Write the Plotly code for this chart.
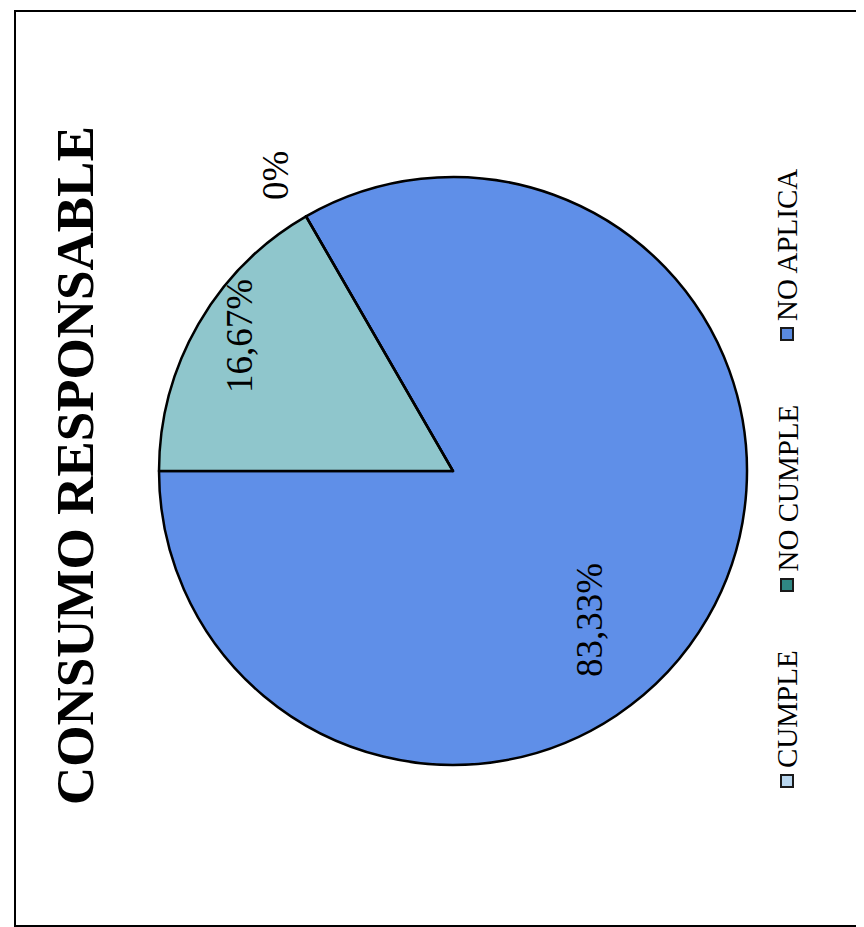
import plotly.graph_objects as go

# ---- data ----
categories = ["CUMPLE", "NO CUMPLE", "NO APLICA"]
values = [83.33, 16.67, 0]
title_text = "CONSUMO RESPONSABLE"

slice_colors = ["#5f8fe8", "#8fc6cc", "#4f7fd8"]
legend_colors = ["#b9d6ee", "#2f8783", "#5a8ae0"]

W, H = 864, 927
cx, cy, r = 445, 463, 294


def px(x):
    return x / W


def py(y):
    return 1 - y / H


def fmt(v):
    if v == 0:
        return "0%"
    return f"{v:.2f}".replace(".", ",") + "%"


fig = go.Figure()
fig.add_trace(go.Pie(
    labels=categories,
    values=values,
    sort=False,
    direction="clockwise",
    rotation=-30,
    marker=dict(colors=slice_colors, line=dict(color="black", width=2.5)),
    textinfo="none",
    hoverinfo="label+percent",
    showlegend=False,
    domain=dict(x=[px(cx - r), px(cx + r)], y=[py(cy + r), py(cy - r)]),
))

serif = "Liberation Serif, Times New Roman, serif"
annotations = []

# title
annotations.append(dict(
    x=px(67), y=py(458), xref="paper", yref="paper",
    text=f"<b>{title_text}</b>", showarrow=False, textangle=-90,
    font=dict(family=serif, size=53, color="black"),
    xanchor="center", yanchor="middle",
))

# slice labels
label_pos = [(581, 612), (232, 328), (267, 168)]
for v, (lx, ly) in zip(values, label_pos):
    annotations.append(dict(
        x=px(lx), y=py(ly), xref="paper", yref="paper",
        text=fmt(v), showarrow=False, textangle=-90,
        font=dict(family=serif, size=37, color="black"),
        xanchor="center", yanchor="middle",
    ))

# legend (rotated)
shapes = []
leg_x = 779
marker_y = [773, 577, 326]
for cat, col, my in zip(categories, legend_colors, marker_y):
    shapes.append(dict(
        type="rect", xref="paper", yref="paper",
        x0=px(leg_x - 6), x1=px(leg_x + 6), y0=py(my + 6), y1=py(my - 6),
        line=dict(color="#1a1a1a", width=2), fillcolor=col,
    ))
    annotations.append(dict(
        x=px(leg_x), y=py(my - 11), xref="paper", yref="paper",
        text=cat, showarrow=False, textangle=-90,
        font=dict(family=serif, size=29, color="black"),
        xanchor="center", yanchor="bottom",
    ))

# frame
shapes.append(dict(
    type="rect", xref="paper", yref="paper",
    x0=px(7), x1=px(862), y0=py(918), y1=py(3),
    line=dict(color="black", width=2), fillcolor="rgba(0,0,0,0)",
))

fig.update_layout(
    width=W, height=H,
    margin=dict(l=0, r=0, t=0, b=0),
    paper_bgcolor="white",
    plot_bgcolor="white",
    annotations=annotations,
    shapes=shapes,
    showlegend=False,
)

fig.write_html("out.html")
